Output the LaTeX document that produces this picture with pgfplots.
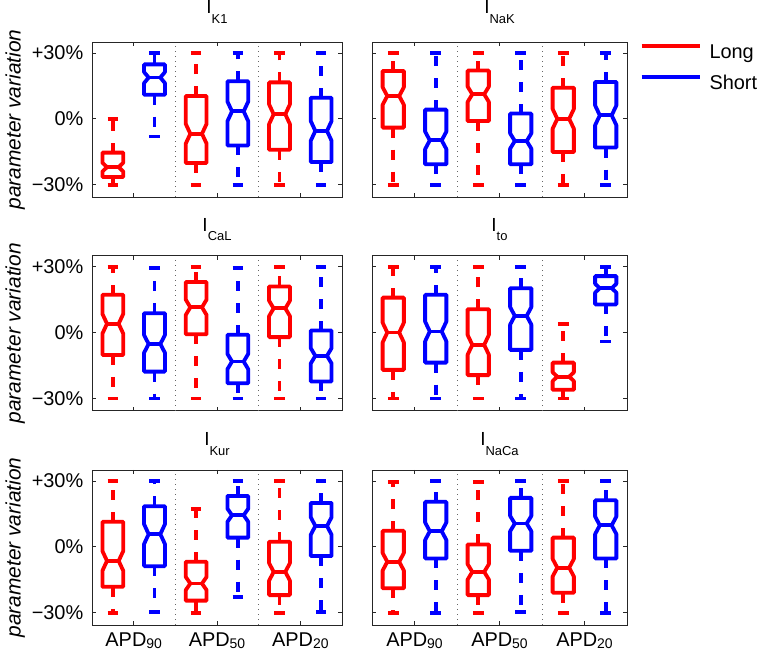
\documentclass[border=0pt]{standalone}
\usepackage{fontspec}
\setmainfont{Liberation Sans}
\usepackage{pgfplots}
\pgfplotsset{compat=1.18}
\usepgfplotslibrary{statistics}

\definecolor{mred}{RGB}{255,0,0}
\definecolor{mblue}{RGB}{0,0,255}

% notched boxes, dashed whiskers (MATLAB look)
\pgfplotsset{
  boxplot/notch/.initial=4,
  boxplot/draw direction=y,
  boxplot/box extend=0.5,
  boxplot/whisker extend=0.25,
  boxplot/draw/box/.code={%
    \pgfmathsetmacro\bxnlo{\pgfplotsboxplotvalue{median}-\pgfplotsboxplotvalue{notch}}%
    \pgfmathsetmacro\bxnhi{\pgfplotsboxplotvalue{median}+\pgfplotsboxplotvalue{notch}}%
    \draw (boxplot box cs:\pgfplotsboxplotvalue{lower quartile},0)
      -- (boxplot box cs:\bxnlo,0)
      -- (boxplot box cs:\pgfplotsboxplotvalue{median},0.22)
      -- (boxplot box cs:\bxnhi,0)
      -- (boxplot box cs:\pgfplotsboxplotvalue{upper quartile},0)
      -- (boxplot box cs:\pgfplotsboxplotvalue{upper quartile},1)
      -- (boxplot box cs:\bxnhi,1)
      -- (boxplot box cs:\pgfplotsboxplotvalue{median},0.78)
      -- (boxplot box cs:\bxnlo,1)
      -- (boxplot box cs:\pgfplotsboxplotvalue{lower quartile},1)
      -- cycle;
  },
  boxplot/draw/median/.code={%
    \draw (boxplot box cs:\pgfplotsboxplotvalue{median},0.22)
      -- (boxplot box cs:\pgfplotsboxplotvalue{median},0.78);
  },
  boxplot/draw/lower whisker/.code={%
    \draw[dash pattern=on 10bp off 12bp]
      (boxplot cs:\pgfplotsboxplotvalue{lower quartile})
      -- (boxplot cs:\pgfplotsboxplotvalue{lower whisker});
    \draw[line cap=butt]
      (boxplot whisker cs:\pgfplotsboxplotvalue{lower whisker},0)
      -- (boxplot whisker cs:\pgfplotsboxplotvalue{lower whisker},1);
  },
  boxplot/draw/upper whisker/.code={%
    \draw[dash pattern=on 10bp off 12bp]
      (boxplot cs:\pgfplotsboxplotvalue{upper quartile})
      -- (boxplot cs:\pgfplotsboxplotvalue{upper whisker});
    \draw[line cap=butt]
      (boxplot whisker cs:\pgfplotsboxplotvalue{upper whisker},0)
      -- (boxplot whisker cs:\pgfplotsboxplotvalue{upper whisker},1);
  },
  panel/.style={
    scale only axis, height=155bp,
    xmin=0.5, xmax=6.5, ymin=-35.6, ymax=35,
    xtick={1.5,3.5,5.5}, xticklabels={},
    ytick={-30,0,30}, yticklabels={},
    tick align=inside, major tick length=4bp,
    axis line style={black!85, line width=0.8bp},
    every tick/.style={black!85, line width=0.7bp},
    extra x ticks={2.5,4.5}, extra x tick labels={},
    extra x tick style={grid=major, major tick length=0pt,
      major grid style={dash pattern=on 1bp off 4bp, black!60, line width=0.9bp}},
    font=\fontsize{20}{24}\selectfont,
    /pgf/number format/assume math mode=true,
  },
  lowtitle/.style={title style={at={(0.5,1)}, anchor=base, yshift=18.5bp}},
  toptitle/.style={title style={at={(0.5,1)}, anchor=base, yshift=22.5bp}},
  leftcol/.style={panel, width=250bp,
    yticklabels={−30\%,0\%,+30\%},
    yticklabel style={anchor=east, inner sep=0pt, xshift=-8.5bp},
    ylabel={\fontsize{21}{24}\selectfont\itshape parameter variation},
    ylabel style={at={(axis description cs:-0.286,0.5)}, anchor=base},
  },
  rightcol/.style={panel, width=255bp},
  bottomrow/.style={
    xticklabels={APD\raisebox{-2bp}{\fontsize{14}{14}\selectfont 90},
                  APD\raisebox{-2bp}{\fontsize{14}{14}\selectfont 50},
                  APD\raisebox{-2bp}{\fontsize{14}{14}\selectfont 20}},
    xticklabel style={anchor=base, inner sep=0pt, yshift=-21.7bp},
  },
}

\newcommand{\ttl}[1]{{\fontsize{19}{19}\selectfont I\raisebox{-9.5bp}{\fontsize{13}{13}\selectfont #1}}}
% \bx{colour}{position}{lower whisker}{q1}{median}{q3}{upper whisker}{notch}
\newcommand{\bx}[8]{\addplot[#1, line width=3.8bp, line join=round, forget plot,
  boxplot prepared={draw position=#2, lower whisker=#3, lower quartile=#4,
  median=#5, upper quartile=#6, upper whisker=#7, notch=#8}] coordinates {};}

\begin{document}
\begin{tikzpicture}
\useasboundingbox (0,0) rectangle (758bp,653bp);

% row 1 left: I_K1
\begin{axis}[leftcol, toptitle, at={(92bp,456bp)}, anchor=south west,
  title={\ttl{K1}}]
\bx{mred}{1}{-30}{-26.5}{-22}{-15.4}{0}{2}
\bx{mblue}{2}{-8}{11}{18.8}{24.8}{30}{2.5}
\bx{mred}{3}{-30}{-20.1}{-6.8}{10.4}{30}{4.5}
\bx{mblue}{4}{-30}{-12.1}{3.4}{17.1}{30}{4.5}
\bx{mred}{5}{-30}{-14.1}{2.1}{16.6}{30}{4.5}
\bx{mblue}{6}{-30}{-19.7}{-5.5}{9.6}{30}{4.5}
\end{axis}

% row 1 right: I_NaK
\begin{axis}[rightcol, toptitle, at={(372bp,456bp)}, anchor=south west,
  title={\ttl{NaK}},
  legend style={at={(axis description cs:1,1)}, anchor=north west,
    xshift=12.7bp, yshift=-2bp, draw=none, fill=none, inner sep=0pt,
    outer sep=0pt, row sep=13bp, column sep=8bp,
    nodes={inner sep=0pt, text height=14bp, text depth=4bp}},
  legend cell align=left,
  legend image code/.code={\draw[#1, line width=3.8bp] (0bp,7.5bp) -- (58bp,7.5bp);}]
\bx{mred}{1}{-30}{-4}{10.4}{21.8}{30}{4}
\bx{mblue}{2}{-30}{-20.7}{-9.8}{4.2}{30}{4}
\bx{mred}{3}{-30}{-1}{11.2}{22}{30}{3.5}
\bx{mblue}{4}{-30}{-20.7}{-10.1}{2.4}{30}{3.5}
\bx{mred}{5}{-30}{-15.1}{0}{14.2}{30}{4.5}
\bx{mblue}{6}{-30}{-13.1}{1.6}{16.8}{30}{4.5}
\addlegendimage{mred}
\addlegendentry{Long}
\addlegendimage{mblue}
\addlegendentry{Short}
\end{axis}

% row 2 left: I_CaL
\begin{axis}[leftcol, lowtitle, at={(92bp,242.3bp)}, anchor=south west, title={\ttl{CaL}}]
\bx{mred}{1}{-30}{-10.2}{4}{17.2}{30}{4.5}
\bx{mblue}{2}{-30}{-17.8}{-5.2}{8.8}{29.5}{4}
\bx{mred}{3}{-30}{-0.8}{11.5}{23}{30}{3.5}
\bx{mblue}{4}{-30}{-23.1}{-13.2}{-1}{29.5}{3.5}
\bx{mred}{5}{-30}{-2.1}{11}{21}{30}{3.5}
\bx{mblue}{6}{-30}{-22.3}{-10.6}{0.9}{29.7}{3.5}
\end{axis}

% row 2 right: I_to
\begin{axis}[rightcol, lowtitle, at={(372bp,242.3bp)}, anchor=south west, title={\ttl{to}}]
\bx{mred}{1}{-30}{-17}{0}{15.9}{29.7}{4.5}
\bx{mblue}{2}{-30}{-13.7}{0.5}{17.2}{29.7}{4.5}
\bx{mred}{3}{-30}{-19.4}{-5.6}{10.6}{30}{4.5}
\bx{mblue}{4}{-30}{-7.9}{7.6}{20.2}{30}{4}
\bx{mred}{5}{-30}{-26.1}{-20.1}{-13.7}{3.8}{2}
\bx{mblue}{6}{-4.1}{12.8}{20.2}{25.7}{30}{2}
\end{axis}

% row 3 left: I_Kur
\begin{axis}[leftcol, bottomrow, lowtitle, at={(92bp,28bp)}, anchor=south west, title={\ttl{Kur}}]
\bx{mred}{1}{-30}{-18.2}{-6.4}{11.4}{30}{4.5}
\bx{mblue}{2}{-29.5}{-8.8}{5.8}{18.5}{30}{4.5}
\bx{mred}{3}{-30}{-24.5}{-16.7}{-6.8}{17.1}{3}
\bx{mblue}{4}{-22.7}{4.2}{14.4}{23.2}{30}{3}
\bx{mred}{5}{-30}{-22}{-11.4}{2.3}{30}{4}
\bx{mblue}{6}{-29.5}{-4.2}{9.5}{20}{30}{4}
\end{axis}

% row 3 right: I_NaCa
\begin{axis}[rightcol, bottomrow, lowtitle, at={(372bp,28bp)}, anchor=south west, title={\ttl{NaCa}}]
\bx{mred}{1}{-30}{-18.9}{-6.8}{7.3}{29.5}{4}
\bx{mblue}{2}{-30}{-5.3}{7.1}{20.5}{30}{4}
\bx{mred}{3}{-30}{-22}{-11.4}{1.1}{29.5}{3.5}
\bx{mblue}{4}{-29.5}{-1.8}{10.6}{22.3}{30}{3.5}
\bx{mred}{5}{-30}{-20.9}{-9.5}{4.2}{30}{4}
\bx{mblue}{6}{-30}{-5.3}{9.8}{21.2}{30}{4}
\end{axis}
\end{tikzpicture}
\end{document}
